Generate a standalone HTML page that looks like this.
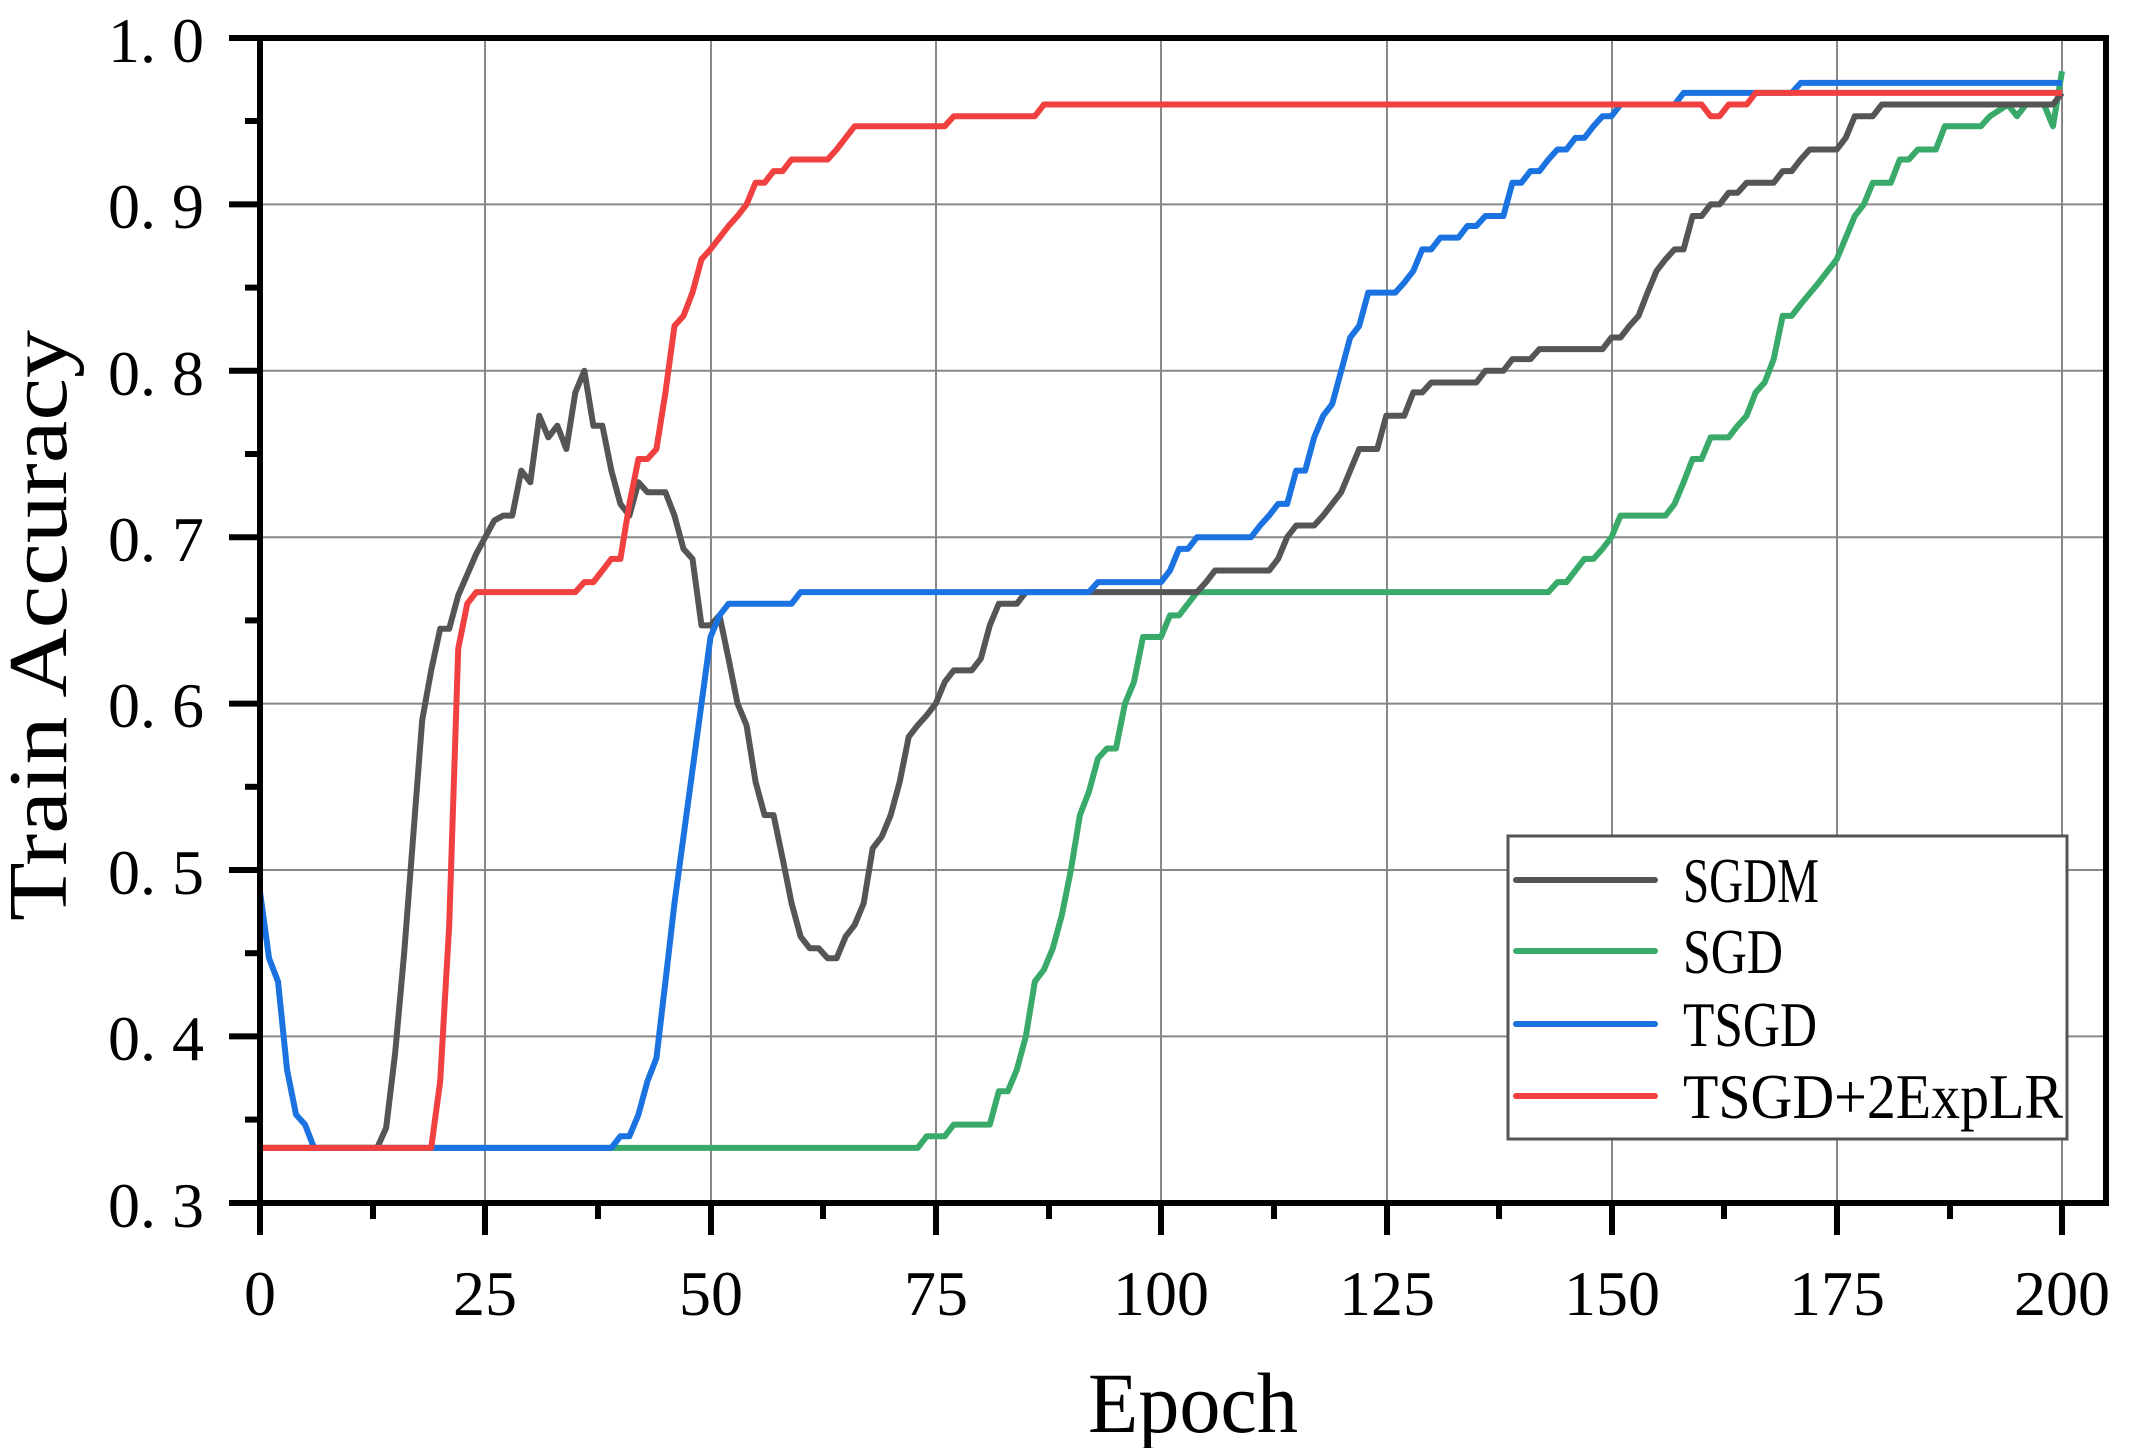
<!DOCTYPE html>
<html><head><meta charset="utf-8"><style>html,body{margin:0;padding:0;background:#fff}svg{display:block}</style></head>
<body>
<svg width="2139" height="1448" viewBox="0 0 2139 1448" xmlns="http://www.w3.org/2000/svg">
<defs><clipPath id="c"><rect x="260" y="38" width="1846" height="1165"/></clipPath></defs>
<rect width="2139" height="1448" fill="#fff"/>
<g stroke="#888" stroke-width="2">
<line x1="485" y1="38" x2="485" y2="1203"/><line x1="711" y1="38" x2="711" y2="1203"/><line x1="936" y1="38" x2="936" y2="1203"/><line x1="1161" y1="38" x2="1161" y2="1203"/><line x1="1387" y1="38" x2="1387" y2="1203"/><line x1="1612" y1="38" x2="1612" y2="1203"/><line x1="1837" y1="38" x2="1837" y2="1203"/><line x1="2062" y1="38" x2="2062" y2="1203"/>
<line x1="260" y1="204.4" x2="2106" y2="204.4"/><line x1="260" y1="370.8" x2="2106" y2="370.8"/><line x1="260" y1="537.2" x2="2106" y2="537.2"/><line x1="260" y1="703.6" x2="2106" y2="703.6"/><line x1="260" y1="870" x2="2106" y2="870"/><line x1="260" y1="1036.4" x2="2106" y2="1036.4"/>
</g>
<g clip-path="url(#c)" fill="none" stroke-linejoin="round">
<g transform="matrix(9.01 0 0 -1664 260 1702)">
<polyline vector-effect="non-scaling-stroke" stroke="#3aaa6a" stroke-width="6" points="0,0.333 73,0.333 74,0.34 76,0.34 77,0.347 81,0.347 82,0.367 83,0.367 84,0.38 85,0.4 86,0.433 87,0.44 88,0.453 89,0.473 90,0.5 91,0.533 92,0.547 93,0.567 94,0.573 95,0.573 96,0.6 97,0.613 98,0.64 100,0.64 101,0.653 102,0.653 103,0.66 104,0.667 143,0.667 144,0.673 145,0.673 146,0.68 147,0.687 148,0.687 149,0.693 150,0.7 151,0.713 156,0.713 157,0.72 158,0.733 159,0.747 160,0.747 161,0.76 163,0.76 164,0.767 165,0.773 166,0.787 167,0.793 168,0.807 169,0.833 170,0.833 171,0.84 173,0.853 175,0.867 176,0.88 177,0.893 178,0.9 179,0.913 181,0.913 182,0.927 183,0.927 184,0.933 186,0.933 187,0.947 191,0.947 192,0.953 194,0.96 195,0.953 196,0.96 198,0.96 199,0.947 200,0.98"/>
<polyline vector-effect="non-scaling-stroke" stroke="#555" stroke-width="6" points="0,0.333 13,0.333 14,0.345 15,0.39 16,0.45 17,0.52 18,0.59 19,0.62 20,0.645 21,0.645 22,0.665 24,0.69 26,0.71 27,0.713 28,0.713 29,0.74 30,0.733 31,0.773 32,0.76 33,0.767 34,0.753 35,0.787 36,0.8 37,0.767 38,0.767 39,0.74 40,0.72 41,0.713 42,0.733 43,0.727 45,0.727 46,0.713 47,0.693 48,0.687 49,0.647 50,0.647 51,0.653 52,0.627 53,0.6 54,0.587 55,0.553 56,0.533 57,0.533 58,0.507 59,0.48 60,0.46 61,0.453 62,0.453 63,0.447 64,0.447 65,0.46 66,0.467 67,0.48 68,0.513 69,0.52 70,0.533 71,0.553 72,0.58 73,0.587 74,0.593 75,0.6 76,0.613 77,0.62 79,0.62 80,0.627 81,0.647 82,0.66 84,0.66 85,0.667 104,0.667 105,0.673 106,0.68 112,0.68 113,0.687 114,0.7 115,0.707 117,0.707 118,0.713 119,0.72 120,0.727 121,0.74 122,0.753 124,0.753 125,0.773 127,0.773 128,0.787 129,0.787 130,0.793 135,0.793 136,0.8 138,0.8 139,0.807 141,0.807 142,0.813 149,0.813 150,0.82 151,0.82 152,0.827 153,0.833 154,0.847 155,0.86 156,0.867 157,0.873 158,0.873 159,0.893 160,0.893 161,0.9 162,0.9 163,0.907 164,0.907 165,0.913 168,0.913 169,0.92 170,0.92 171,0.927 172,0.933 175,0.933 176,0.94 177,0.953 179,0.953 180,0.96 199,0.96 200,0.967"/>
<polyline vector-effect="non-scaling-stroke" stroke="#1a73e0" stroke-width="6" points="0,0.487 1,0.447 2,0.433 3,0.38 4,0.353 5,0.347 6,0.333 39,0.333 40,0.34 41,0.34 42,0.353 43,0.373 44,0.387 45,0.433 46,0.48 47,0.52 48,0.56 49,0.6 50,0.64 51,0.653 52,0.66 59,0.66 60,0.667 92,0.667 93,0.673 100,0.673 101,0.68 102,0.693 103,0.693 104,0.7 110,0.7 111,0.707 112,0.713 113,0.72 114,0.72 115,0.74 116,0.74 117,0.76 118,0.773 119,0.78 120,0.8 121,0.82 122,0.827 123,0.847 126,0.847 127,0.853 128,0.86 129,0.873 130,0.873 131,0.88 133,0.88 134,0.887 135,0.887 136,0.893 138,0.893 139,0.913 140,0.913 141,0.92 142,0.92 143,0.927 144,0.933 145,0.933 146,0.94 147,0.94 148,0.947 149,0.953 150,0.953 151,0.96 157,0.96 158,0.967 170,0.967 171,0.973 200,0.973"/>
<polyline vector-effect="non-scaling-stroke" stroke="#f04040" stroke-width="6" points="0,0.333 19,0.333 20,0.373 21,0.467 22,0.633 23,0.66 24,0.667 35,0.667 36,0.673 37,0.673 38,0.68 39,0.687 40,0.687 41,0.72 42,0.747 43,0.747 44,0.753 45,0.787 46,0.827 47,0.833 48,0.847 49,0.867 50,0.873 51,0.88 52,0.887 53,0.893 54,0.9 55,0.913 56,0.913 57,0.92 58,0.92 59,0.927 63,0.927 64,0.933 65,0.94 66,0.947 76,0.947 77,0.953 86,0.953 87,0.96 160,0.96 161,0.953 162,0.953 163,0.96 165,0.96 166,0.967 200,0.967"/>
</g></g>
<rect x="260" y="38" width="1846" height="1165" fill="none" stroke="#000" stroke-width="6"/>
<g stroke="#000" stroke-width="6">
<line x1="260" y1="1203" x2="260" y2="1235"/><line x1="485" y1="1203" x2="485" y2="1235"/><line x1="711" y1="1203" x2="711" y2="1235"/><line x1="936" y1="1203" x2="936" y2="1235"/><line x1="1161" y1="1203" x2="1161" y2="1235"/><line x1="1387" y1="1203" x2="1387" y2="1235"/><line x1="1612" y1="1203" x2="1612" y2="1235"/><line x1="1837" y1="1203" x2="1837" y2="1235"/><line x1="2062" y1="1203" x2="2062" y2="1235"/>
<line x1="373" y1="1203" x2="373" y2="1219"/><line x1="598" y1="1203" x2="598" y2="1219"/><line x1="823" y1="1203" x2="823" y2="1219"/><line x1="1049" y1="1203" x2="1049" y2="1219"/><line x1="1274" y1="1203" x2="1274" y2="1219"/><line x1="1499" y1="1203" x2="1499" y2="1219"/><line x1="1724" y1="1203" x2="1724" y2="1219"/><line x1="1950" y1="1203" x2="1950" y2="1219"/>
<line x1="229" y1="38" x2="260" y2="38"/><line x1="229" y1="204.4" x2="260" y2="204.4"/><line x1="229" y1="370.8" x2="260" y2="370.8"/><line x1="229" y1="537.2" x2="260" y2="537.2"/><line x1="229" y1="703.6" x2="260" y2="703.6"/><line x1="229" y1="870" x2="260" y2="870"/><line x1="229" y1="1036.4" x2="260" y2="1036.4"/><line x1="229" y1="1203" x2="260" y2="1203"/>
<line x1="245" y1="121" x2="260" y2="121"/><line x1="245" y1="287.6" x2="260" y2="287.6"/><line x1="245" y1="454" x2="260" y2="454"/><line x1="245" y1="620.4" x2="260" y2="620.4"/><line x1="245" y1="786.8" x2="260" y2="786.8"/><line x1="245" y1="953.2" x2="260" y2="953.2"/><line x1="245" y1="1119.6" x2="260" y2="1119.6"/>
</g>
<g font-family="Liberation Serif, serif" font-size="64" fill="#000">
<g text-anchor="end">
<text x="204" y="62">1. 0</text><text x="204" y="228">0. 9</text><text x="204" y="395">0. 8</text><text x="204" y="561">0. 7</text><text x="204" y="727">0. 6</text><text x="204" y="894">0. 5</text><text x="204" y="1060">0. 4</text><text x="204" y="1227">0. 3</text>
</g>
<g text-anchor="middle">
<text x="260" y="1315">0</text><text x="485" y="1315">25</text><text x="711" y="1315">50</text><text x="936" y="1315">75</text><text x="1161" y="1315">100</text><text x="1387" y="1315">125</text><text x="1612" y="1315">150</text><text x="1837" y="1315">175</text><text x="2062" y="1315">200</text>
</g>
<text x="1088" y="1432" font-size="86" textLength="210" lengthAdjust="spacingAndGlyphs">Epoch</text>
<text transform="translate(66,626) rotate(-90)" x="-295" y="0" font-size="84" textLength="591" lengthAdjust="spacingAndGlyphs">Train Accuracy</text>
</g>
<rect x="1508" y="836" width="559" height="303" fill="#fff" stroke="#555" stroke-width="3"/>
<g stroke-width="6" stroke-linecap="round">
<line x1="1516" y1="880" x2="1655" y2="880" stroke="#555"/>
<line x1="1516" y1="951" x2="1655" y2="951" stroke="#3aaa6a"/>
<line x1="1516" y1="1024" x2="1655" y2="1024" stroke="#1a73e0"/>
<line x1="1516" y1="1096" x2="1655" y2="1096" stroke="#f04040"/>
</g>
<g font-family="Liberation Serif, serif" font-size="64" fill="#000">
<text x="1683" y="902" textLength="136" lengthAdjust="spacingAndGlyphs">SGDM</text>
<text x="1683" y="973" textLength="100" lengthAdjust="spacingAndGlyphs">SGD</text>
<text x="1683" y="1046" textLength="134" lengthAdjust="spacingAndGlyphs">TSGD</text>
<text x="1683" y="1118" textLength="380" lengthAdjust="spacingAndGlyphs">TSGD+2ExpLR</text>
</g>
</svg>
</body></html>
